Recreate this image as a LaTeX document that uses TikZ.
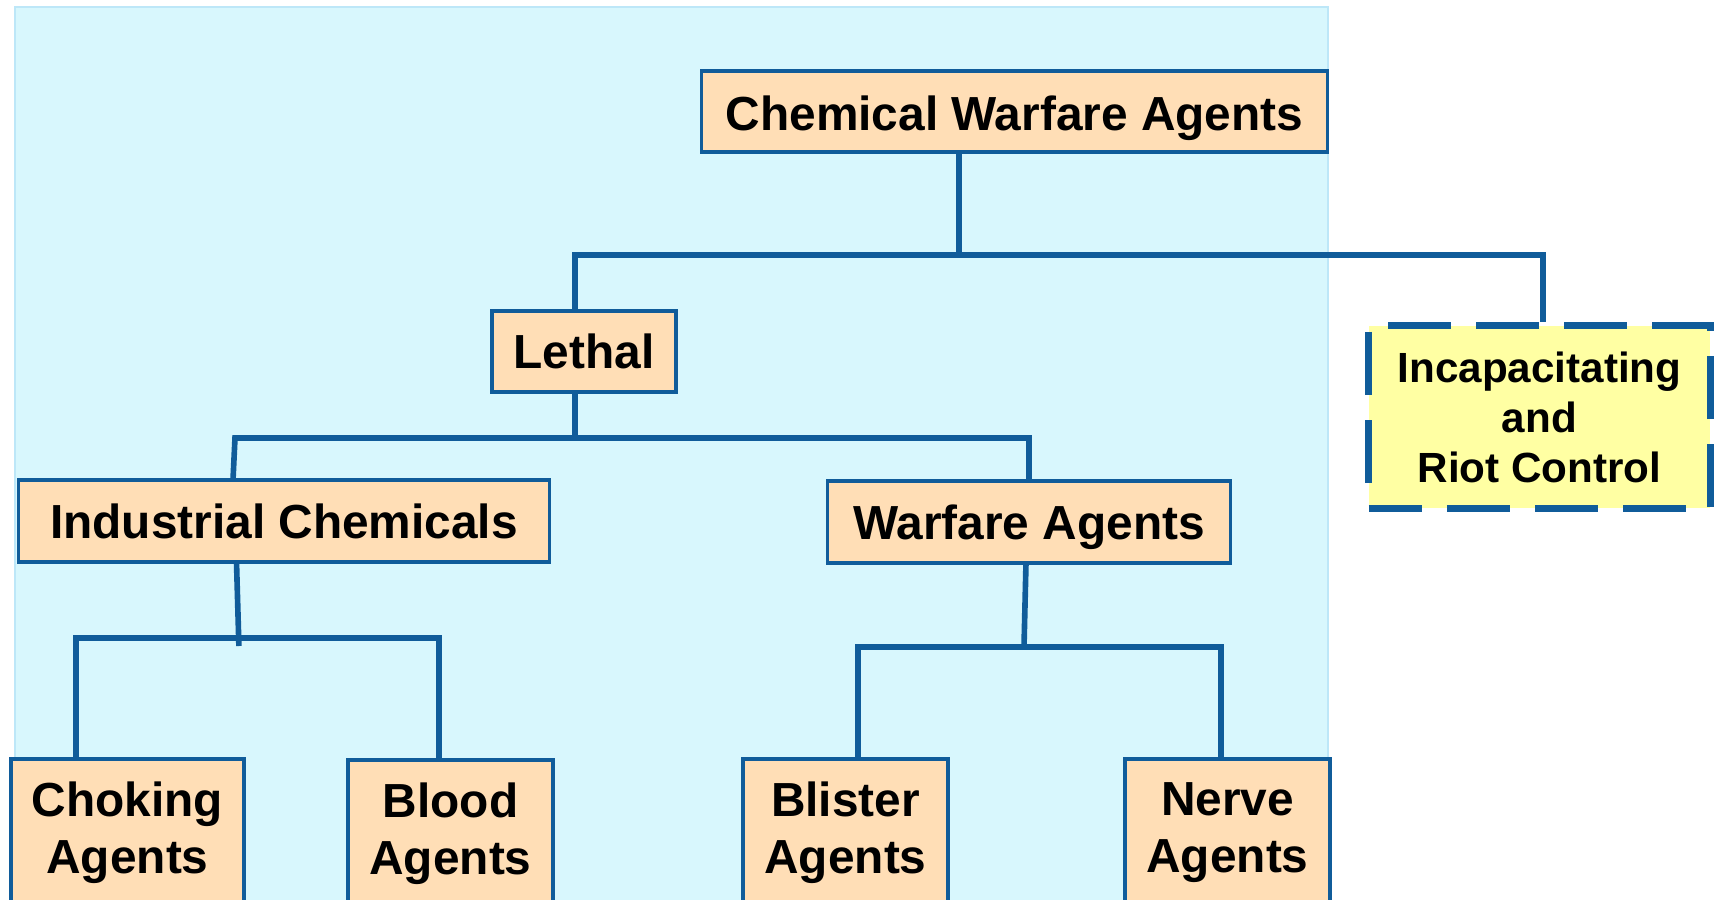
\documentclass[tikz,border=0pt]{standalone}
\usepackage{fontspec}
\setmainfont{Liberation Sans}
\definecolor{bgcyan}{HTML}{D8F7FD}
\definecolor{bgedge}{HTML}{BDE7F8}
\definecolor{boxfill}{HTML}{FFDEB6}
\definecolor{linkblue}{HTML}{105C9A}
\definecolor{incfill}{HTML}{FFFFA3}
\tikzset{
  agent/.style={draw=linkblue, line width=0.9pt, fill=boxfill, inner sep=0pt, align=center,
    font=\fontsize{13.6}{16.2}\selectfont\bfseries},
  leaf/.style={agent, minimum width=2.05cm, minimum height=1.48cm},
  conn/.style={draw=linkblue, line width=1.6pt},
}
\begin{document}
\begin{tikzpicture}[x=0.01cm,y=-0.01cm]
			\useasboundingbox (0,0) rectangle (1717,899);
			\clip (0,0) rectangle (1717,899);
			\draw [fill=bgcyan, draw=bgedge, line width=0.4pt] (15,7) rectangle (1328,930);
			% boxes
			\node[agent, minimum width=6.25cm, minimum height=0.81cm, text height=13.7pt, text depth=2.9pt] (cwa) at (1014.5,111.5) {Chemical Warfare Agents};
			\node[agent, minimum width=1.84cm, minimum height=0.81cm] (lethal) at (584,351.5) {Lethal};
			\node[agent, fill=incfill, line width=2pt, dash pattern=on 0.63cm off 0.25cm, dash phase=0.1cm,
			      minimum width=3.41cm, minimum height=1.82cm, font=\fontsize{12}{14.2}\selectfont\bfseries] (incap) at (1539.5,417) {Incapacitating\\and\\Riot Control};
			\node[agent, minimum width=5.30cm, minimum height=0.82cm] (indus) at (284,521) {Industrial Chemicals};
			\node[agent, minimum width=4.02cm, minimum height=0.82cm, text height=13.1pt, text depth=2.9pt] (warf) at (1029,522) {Warfare Agents};
			\node[leaf, minimum width=2.33cm] (choking) at (127.5,833) {Choking\\Agents};
			\node[leaf] (blood) at (450.5,834) {Blood\\Agents};
			\node[leaf] (blister) at (845.5,833) {Blister\\Agents};
			\node[leaf] (nerve) at (1227.5,833) {Nerve\\Agents};
			% junctions
			\coordinate (top) at (959,255);
			\coordinate (tl) at (575,255);
			\coordinate (tr) at (1543,255);
			\coordinate (ml) at (235,438);
			\coordinate (mm) at (575,438);
			\coordinate (mr) at (1029,438);
			\coordinate (il) at (76,638);
			\coordinate (im) at (238.7,638);
			\coordinate (ir) at (439,638);
			\coordinate (wl) at (858,647);
			\coordinate (wm) at (1024,647);
			\coordinate (wr) at (1221,647);
			% connectors
			\draw [conn] (cwa.south -| top) to (top);
			\draw [conn] (lethal.north -| tl) to (tl) to (tr) to (incap.north -| tr);
			\draw [conn] (lethal.south -| mm) to (mm);
			\draw [conn] (233,480) to (ml) to (mr) to (warf.north -| mr);
			\draw [conn] (236.5,562) to (238.9,646);
			\draw [conn] (choking.north -| il) to (il) to (ir) to (blood.north -| ir);
			\draw [conn] (1026,563) to (1024,647);
			\draw [conn] (blister.north -| wl) to (wl) to (wr) to (nerve.north -| wr);
\end{tikzpicture}
\end{document}
